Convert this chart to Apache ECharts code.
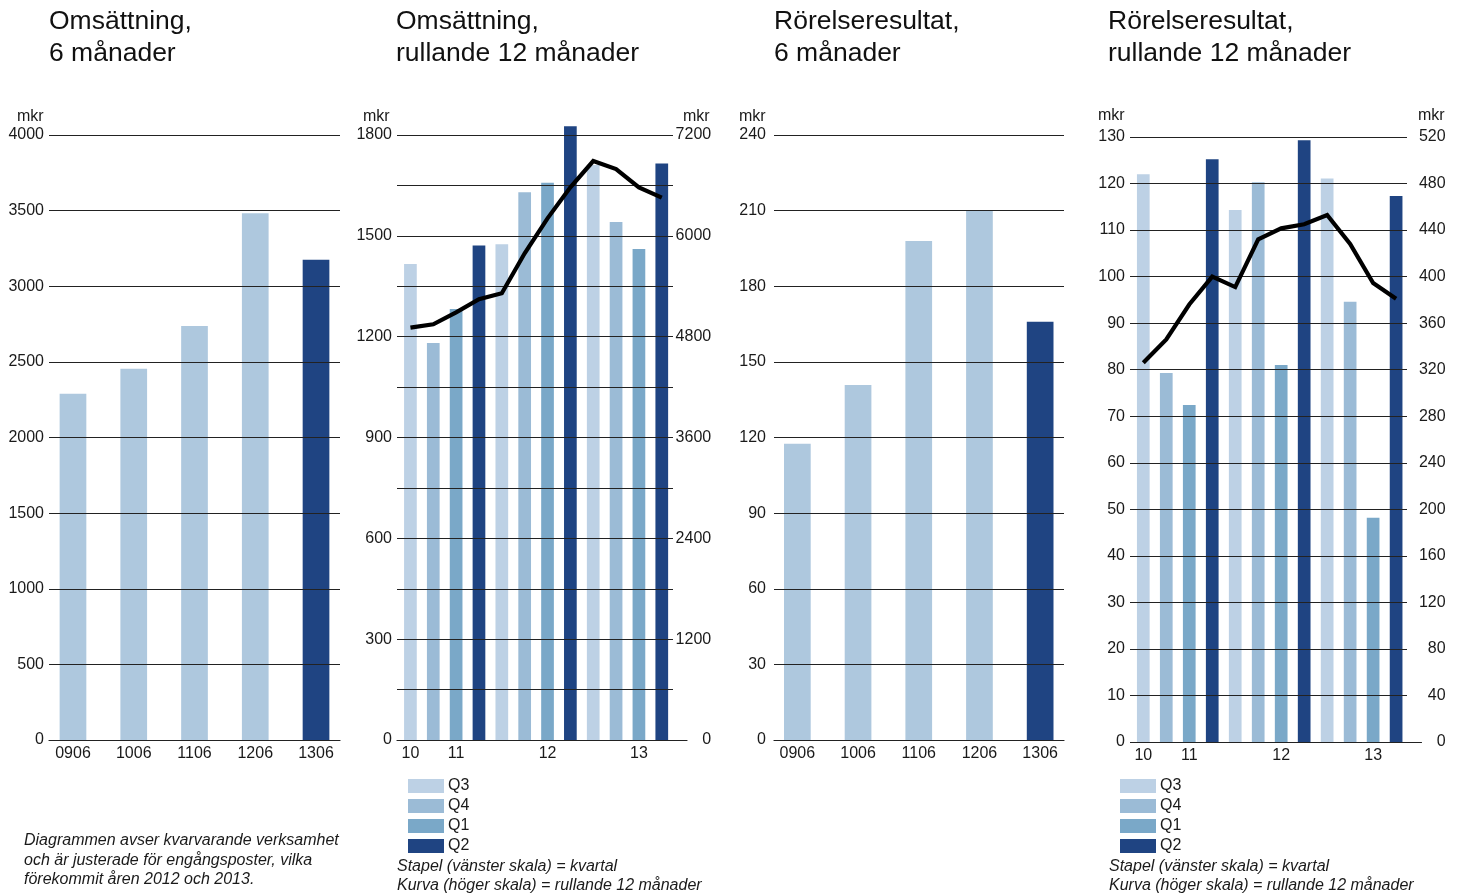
<!DOCTYPE html>
<html>
<head>
<meta charset="utf-8">
<script src="https://cdn.jsdelivr.net/npm/echarts@6/dist/echarts.min.js"></script>
<style>
html,body{margin:0;padding:0;background:#fff;}
#chart{width:1462px;height:894px;}
</style>
</head>
<body>
<div id="chart"></div>
<script>
// ---------- data ----------
const halfYearCats = ['0906', '1006', '1106', '1206', '1306'];
const sales6m = [2289, 2455, 2738, 3482, 3175];
const ebit6m = [117.5, 140.8, 198, 210, 165.9];

const quarterCats = ['Q3 2010', 'Q4 2010', 'Q1 2011', 'Q2 2011', 'Q3 2011', 'Q4 2011',
                     'Q1 2012', 'Q2 2012', 'Q3 2012', 'Q4 2012', 'Q1 2013', 'Q2 2013'];
const yearTickLabels = ['10', '', '11', '', '', '', '12', '', '', '', '13', ''];
const quarterNames = ['Q3', 'Q4', 'Q1', 'Q2'];

const salesQuarter = [1416, 1181, 1282, 1471, 1475, 1630, 1658, 1826, 1711, 1541, 1461, 1715];
const salesRolling12 = [4907, 4947, 5090, 5245, 5316, 5792, 6208, 6577, 6890, 6795, 6577, 6454];

const ebitQuarter = [122, 79.3, 72.4, 125.2, 114.3, 120.3, 81, 129.3, 121.1, 94.6, 48.2, 117.3];
const ebitRolling12 = [326, 346, 376, 400, 391, 432, 441.5, 445, 453, 428, 394.5, 381];

const titles = [
  'Omsättning,\n6 månader',
  'Omsättning,\nrullande 12 månader',
  'Rörelseresultat,\n6 månader',
  'Rörelseresultat,\nrullande 12 månader'
];
const noteLeft = 'Diagrammen avser kvarvarande verksamhet\noch är justerade för engångsposter, vilka\nförekommit åren 2012 och 2013.';
const noteScale = 'Stapel (vänster skala) = kvartal\nKurva (höger skala) = rullande 12 månader';

// ---------- styles ----------
const FONT = '"Liberation Sans", Arial, Helvetica, sans-serif';
const TXT = '#1a1a1a';
const LINEC = '#222222';
const LIGHT = '#aec8de';
const DARK = '#1f4482';
const QCOLORS = {Q3: '#bdd1e5', Q4: '#9bbbd6', Q1: '#7aa8c8', Q2: '#1f4482'};

const chartEl = document.getElementById('chart');
const chart = echarts.init(chartEl, null, {renderer: 'canvas'});

function grid(left, right, top) {
  return {left: left, width: right - left, top: top, height: 605, containLabel: false};
}

const grids = [
  grid(49, 340, 135),        // 0 c1 frame
  grid(42.6, 346.4, 135),    // 1 c1 bars
  grid(397, 673, 135),       // 2 c2 frame
  grid(399, 673.2, 135),     // 3 c2 bars
  grid(397, 687, 135),       // 4 c2 axis line
  grid(774, 1064, 135),      // 5 c3 frame
  grid(767, 1070.5, 135),    // 6 c3 bars
  grid(1130, 1407, 137),     // 7 c4 frame
  grid(1131.8, 1407.6, 137), // 8 c4 bars
  grid(1131, 1421.5, 137)    // 9 c4 axis line
];

function hiddenX(g, data) {
  return {type: 'category', gridIndex: g, data: data, show: false};
}
function lineX(g, data) {
  return {type: 'category', gridIndex: g, data: data, z: 10,
    axisLine: {show: true, lineStyle: {color: LINEC, width: 1.2}},
    axisTick: {show: false}, axisLabel: {show: false}, splitLine: {show: false}};
}
function labelX(g, data, fmt) {
  return {type: 'category', gridIndex: g, data: data,
    axisLine: {show: false}, axisTick: {show: false},
    axisLabel: {show: true, interval: 0, margin: 6, color: TXT, fontSize: 16, fontFamily: FONT,
      formatter: fmt || null},
    splitLine: {show: false}};
}
function frameY(g, max, interval, labelEvery, margin) {
  return {type: 'value', gridIndex: g, min: 0, max: max, interval: interval, z: 10,
    axisLine: {show: false}, axisTick: {show: false},
    axisLabel: {show: true, margin: margin, color: TXT, fontSize: 16, fontFamily: FONT,
      padding: [3, 0, 0, 0],
      formatter: v => (Math.round(v) % labelEvery === 0 ? String(Math.round(v)) : '')},
    splitLine: {show: true, lineStyle: {color: LINEC, width: 1}}};
}
function hiddenY(g, max) {
  return {type: 'value', gridIndex: g, min: 0, max: max, show: false, splitLine: {show: false}};
}
function rightY(g, max, interval, labelEvery) {
  return {type: 'value', gridIndex: g, position: 'right', min: 0, max: max, interval: interval,
    axisLine: {show: false}, axisTick: {show: false}, splitLine: {show: false},
    axisLabel: {show: true, margin: 38, align: 'right', color: TXT, fontSize: 16, fontFamily: FONT,
      padding: [3, 0, 0, 0],
      formatter: v => (Math.round(v) % labelEvery === 0 ? String(Math.round(v)) : '')}};
}

const xAxes = [
  lineX(0, halfYearCats),
  labelX(1, halfYearCats),
  hiddenX(2, quarterCats),
  labelX(3, quarterCats, (v, i) => yearTickLabels[i]),
  lineX(4, quarterCats),
  lineX(5, halfYearCats),
  labelX(6, halfYearCats),
  hiddenX(7, quarterCats),
  labelX(8, quarterCats, (v, i) => yearTickLabels[i]),
  lineX(9, quarterCats)
];

const yAxes = [
  frameY(0, 4000, 500, 500, 5),      // 0
  hiddenY(1, 4000),                  // 1
  frameY(2, 1800, 150, 300, 5),      // 2
  hiddenY(3, 1800),                  // 3
  rightY(3, 7200, 600, 1200),        // 4
  hiddenY(4, 1800),                  // 5
  frameY(5, 240, 30, 30, 8),         // 6
  hiddenY(6, 240),                   // 7
  frameY(7, 130, 10, 10, 5),         // 8
  hiddenY(8, 130),                   // 9
  rightY(8, 520, 40, 40),            // 10
  hiddenY(9, 130)                    // 11
];

function halfYearBar(xi, yi, values) {
  const last = values.length - 1;
  return {type: 'bar', xAxisIndex: xi, yAxisIndex: yi, data: values, barWidth: 26.7, z: 2,
    itemStyle: {color: p => (p.dataIndex === last ? DARK : LIGHT)}};
}
function quarterBars(xi, yi, values) {
  return quarterNames.map(q => ({
    name: q, type: 'bar', xAxisIndex: xi, yAxisIndex: yi, barWidth: 12.7, barGap: '-100%',
    clip: false, z: 2, itemStyle: {color: QCOLORS[q]},
    data: values.map((v, i) => (quarterCats[i].slice(0, 2) === q ? v : '-'))
  }));
}
function rollingLine(xi, yi, values) {
  return {type: 'line', xAxisIndex: xi, yAxisIndex: yi, data: values, symbol: 'none', z: 20,
    lineStyle: {color: '#000', width: 4.2, join: 'miter'}, silent: true};
}

const series = [
  halfYearBar(1, 1, sales6m),
  ...quarterBars(3, 3, salesQuarter),
  rollingLine(3, 4, salesRolling12),
  halfYearBar(6, 7, ebit6m),
  ...quarterBars(8, 9, ebitQuarter),
  rollingLine(8, 10, ebitRolling12)
];

function txt(text, left, top, opts) {
  return {
    text: text, left: left, top: top, padding: 0,
    textStyle: Object.assign({fontFamily: FONT, color: TXT, fontWeight: 'normal', fontSize: 16, lineHeight: 18},
      (opts || {}))
  };
}

const titleComps = [
  txt(titles[0], 49, 6, {fontSize: 26.5, lineHeight: 32, color: '#111'}),
  txt(titles[1], 396, 6, {fontSize: 26.5, lineHeight: 32, color: '#111'}),
  txt(titles[2], 774, 6, {fontSize: 26.5, lineHeight: 32, color: '#111'}),
  txt(titles[3], 1108, 6, {fontSize: 26.5, lineHeight: 32, color: '#111'}),
  txt('mkr', 17, 108),
  txt('mkr', 363, 108),
  txt('mkr', 683, 108),
  txt('mkr', 739, 108),
  txt('mkr', 1098, 107),
  txt('mkr', 1418, 107),
  txt(noteLeft, 24, 831, {fontStyle: 'italic', lineHeight: 19.5}),
  txt(noteScale, 397, 857, {fontStyle: 'italic', lineHeight: 19}),
  txt(noteScale, 1109, 857, {fontStyle: 'italic', lineHeight: 19})
];

function legendAt(left) {
  return {data: quarterNames, left: left, top: 778, orient: 'vertical', padding: 0,
    icon: 'rect', itemWidth: 36, itemHeight: 14, itemGap: 4, selectedMode: false,
    textStyle: {fontFamily: FONT, color: TXT, fontSize: 16, padding: [0, 0, 0, -1]}};
}

chart.setOption({
  backgroundColor: '#fff',
  animation: false,
  title: titleComps,
  legend: [legendAt(408), legendAt(1120)],
  grid: grids,
  xAxis: xAxes,
  yAxis: yAxes,
  series: series
});
</script>
</body>
</html>
